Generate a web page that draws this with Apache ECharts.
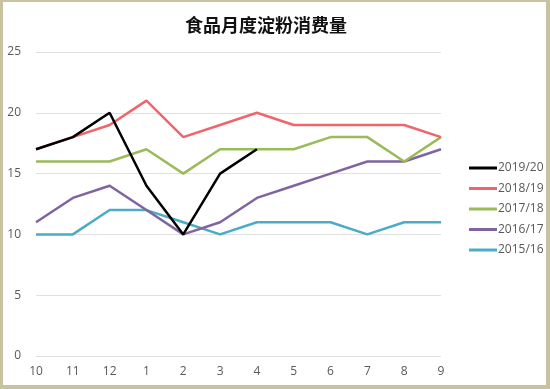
<!DOCTYPE html>
<html><head><meta charset="utf-8">
<script src="https://cdn.jsdelivr.net/npm/echarts@6/dist/echarts.min.js"></script>
<style>
html,body{margin:0;padding:0;background:#c8c29e;}
#c{position:absolute;left:3px;top:2px;width:543px;height:383px;background:#fff;}
</style></head>
<body><div id="c"></div>
<script>
const categories = ['10','11','12','1','2','3','4','5','6','7','8','9'];
const s2019 = [17,18,20,14,10,15,17];
const s2018 = [17,18,19,21,18,19,20,19,19,19,19,18];
const s2017 = [16,16,16,17,15,17,17,17,18,18,16,18];
const s2016 = [11,13,14,12,10,11,13,14,15,16,16,17];
const s2015 = [10,10,12,12,11,10,11,11,11,10,11,11];
const names = ['2019/20','2018/19','2017/18','2016/17','2015/16'];
const colors = ['#000000','#f0656c','#9bbb59','#8064a2','#4bacc6'];
const seriesData = [s2019,s2018,s2017,s2016,s2015];

const chart = echarts.init(document.getElementById('c'), null, {renderer:'canvas'});
const order = [4,3,2,1,0];
chart.setOption({
  animation:false,
  title:{text:'食品月度淀粉消费量',left:177,top:9,
    textStyle:{fontFamily:'Noto Sans CJK SC',fontSize:18,fontWeight:'bold',color:'#111'}},
  legend:{orient:'vertical',left:461,top:155,itemWidth:28,itemHeight:3,itemGap:8.5,
    icon:'rect',data:names,textStyle:{color:'#595959',fontSize:12,fontFamily:'"Open Sans", sans-serif',padding:[0,0,0,-4]}},
  grid:{left:33,right:105,top:50,bottom:29},
  xAxis:{type:'category',data:categories,boundaryGap:false,
    axisLine:{show:false},axisTick:{show:false},
    axisLabel:{color:'#595959',fontSize:12,margin:10,fontFamily:'"Open Sans", sans-serif'}},
  yAxis:{type:'value',min:0,max:25,interval:5,
    axisLine:{show:false},axisTick:{show:false},
    splitLine:{lineStyle:{color:'#e0e0e0',width:1}},
    axisLabel:{color:'#595959',fontSize:12,margin:15,fontFamily:'"Open Sans", sans-serif'}},
  series: order.map(i=>({
    name:names[i],type:'line',data:seriesData[i],symbol:'none',
    lineStyle:{color:colors[i],width:2.5},itemStyle:{color:colors[i]},z:10-i
  }))
});
</script></body></html>
